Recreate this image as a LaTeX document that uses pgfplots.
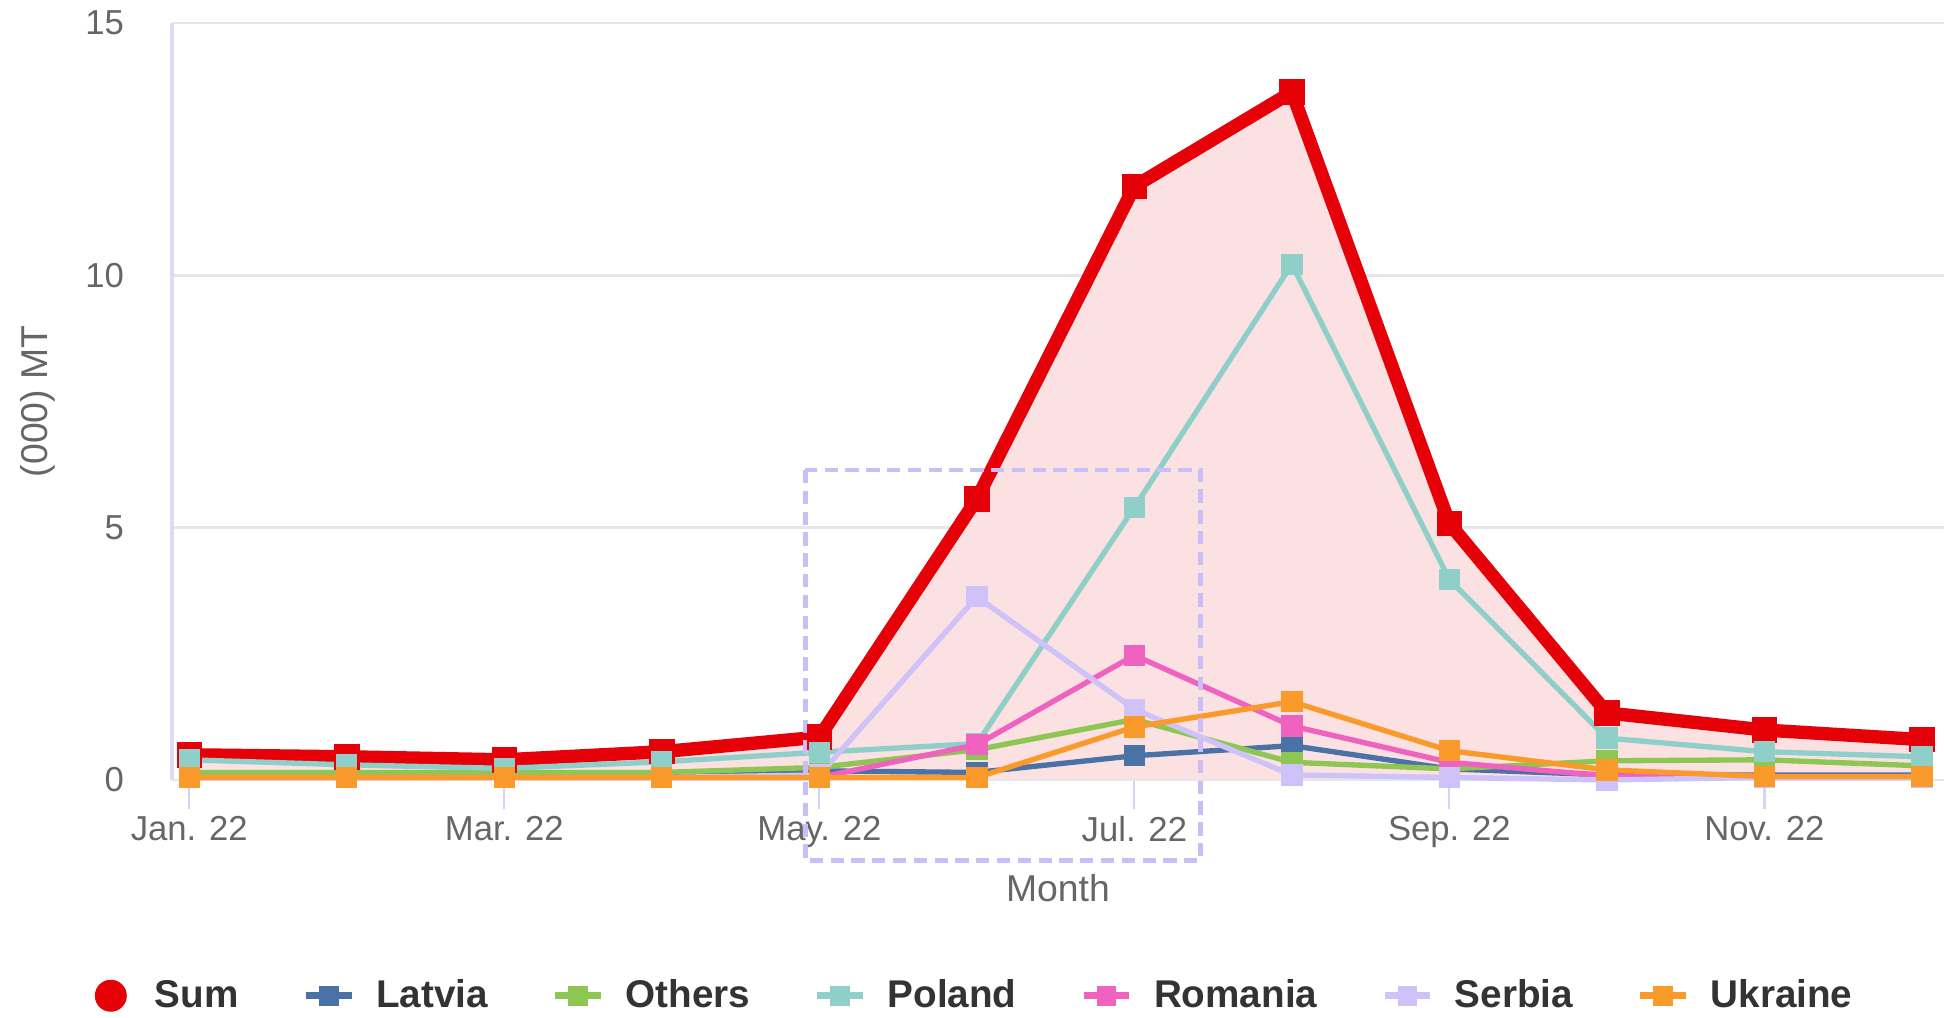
\documentclass[border=0pt]{standalone}
\usepackage{pgfplots}
\pgfplotsset{compat=1.18}
\usepackage{fontspec}
\setmainfont{Liberation Sans}
\definecolor{csum}{HTML}{E60008}
\definecolor{clat}{HTML}{4A72A6}
\definecolor{coth}{HTML}{8DC653}
\definecolor{cpol}{HTML}{8ECFC9}
\definecolor{crom}{HTML}{F062C0}
\definecolor{cser}{HTML}{CFC2F8}
\definecolor{cukr}{HTML}{FA9A2A}
\definecolor{cfill}{HTML}{FBE1E2}
\definecolor{cgrid}{HTML}{E6E6EA}
\definecolor{ctext}{HTML}{666666}
\definecolor{cleg}{HTML}{333333}
\definecolor{cbox}{HTML}{C9BEF8}
\begin{document}
\begin{tikzpicture}
\begin{axis}[
  name=ax,
  scale only axis,
  width=664.5pt, height=283.9pt,
  xmin=-0.11, xmax=11.14,
  ymin=0, ymax=15,
  clip=false,
  axis line style={draw=none},
  xtick pos=bottom, ytick pos=left,
  xtick={0,2,4,6,8,10},
  xticklabels={Jan. 22,Mar. 22,May. 22,Jul. 22,Sep. 22,Nov. 22},
  ytick={0,5,10,15},
  ymajorgrids,
  grid style={cgrid, line width=1pt},
  tick label style={font=\fontsize{13}{15}\selectfont, text=ctext},
  /pgf/number format/assume math mode=true,
  x tick style={draw=cgrid!80!blue!60, line width=0.8pt},
  xtick align=outside,
  major tick length=11pt,
  ytick style={draw=none},
  y tick label style={xshift=-14.5pt},
  x tick label style={yshift=1pt},
  xlabel={Month},
  ylabel={(000) MT},
  label style={font=\fontsize{14}{16}\selectfont, text=ctext},
  xlabel style={yshift=-3.2pt},
  ylabel style={yshift=4.5pt},
  legend columns=7,
  legend style={draw=none, fill=none, at={(0.452,-0.285)}, anchor=center,
    font=\fontsize{14.5}{17}\selectfont\bfseries, text=cleg,
    /tikz/every odd column/.append style={column sep=6pt},
    /tikz/every even column/.append style={column sep=22pt}},
  legend cell align=left,
]
% left axis line
\draw[cgrid!70!blue!40, line width=1.2pt] (axis cs:-0.11,0) -- (axis cs:-0.11,15);
% area under Sum
\addplot[fill=cfill, draw=none, forget plot] coordinates {
(0,0.5)(1,0.46)(2,0.4)(3,0.56)(4,0.85)(5,5.57)(6,11.76)(7,13.63)(8,5.08)(9,1.33)(10,0.99)(11,0.8)} \closedcycle;
\draw[cgrid, line width=1pt] (axis cs:-0.11,0) -- (axis cs:11.14,0);
% Sum
\addplot[csum, line width=5pt, mark=square*, mark size=4.6pt, mark options={line width=0pt}, forget plot] coordinates {
(0,0.5)(1,0.46)(2,0.4)(3,0.56)(4,0.85)(5,5.57)(6,11.76)(7,13.63)(8,5.08)(9,1.33)(10,0.99)(11,0.8)};
% Latvia
\addplot[clat, line width=2pt, mark=square*, mark size=3.8pt, mark options={line width=0pt}, forget plot] coordinates {
(0,0.12)(1,0.1)(2,0.1)(3,0.12)(4,0.18)(5,0.15)(6,0.48)(7,0.68)(8,0.22)(9,0.1)(10,0.1)(11,0.1)};
% Others
\addplot[coth, line width=2pt, mark=square*, mark size=3.8pt, mark options={line width=0pt}, forget plot] coordinates {
(0,0.15)(1,0.15)(2,0.15)(3,0.15)(4,0.25)(5,0.6)(6,1.2)(7,0.35)(8,0.22)(9,0.38)(10,0.4)(11,0.28)};
% Poland
\addplot[cpol, line width=2pt, mark=square*, mark size=3.8pt, mark options={line width=0pt}, forget plot] coordinates {
(0,0.4)(1,0.3)(2,0.23)(3,0.36)(4,0.55)(5,0.72)(6,5.4)(7,10.22)(8,3.97)(9,0.83)(10,0.56)(11,0.46)};
% Romania
\addplot[crom, line width=2pt, mark=square*, mark size=3.8pt, mark options={line width=0pt}, forget plot] coordinates {
(0,0.05)(1,0.05)(2,0.05)(3,0.05)(4,0.05)(5,0.7)(6,2.47)(7,1.07)(8,0.35)(9,0.08)(10,0.05)(11,0.05)};
% Serbia
\addplot[cser, line width=2pt, mark=square*, mark size=3.8pt, mark options={line width=0pt}, forget plot] coordinates {
(0,0.05)(1,0.05)(2,0.05)(3,0.05)(4,0.1)(5,3.63)(6,1.4)(7,0.1)(8,0.05)(9,0.0)(10,0.05)(11,0.05)};
% Ukraine
\addplot[cukr, line width=2pt, mark=square*, mark size=3.8pt, mark options={line width=0pt}, forget plot] coordinates {
(0,0.05)(1,0.05)(2,0.05)(3,0.05)(4,0.05)(5,0.05)(6,1.05)(7,1.55)(8,0.58)(9,0.2)(10,0.07)(11,0.07)};
% annotation box
\draw[cbox, line width=1.8pt, dash pattern=on 5pt off 2.8pt] (axis cs:3.91,6.14) rectangle (axis cs:6.42,-1.6);
% legend
\addlegendimage{draw=none, legend image code/.code={\path[draw=none] (0cm,0cm) -- (0.6cm,0cm); \fill[csum, draw=none] (0.3cm,0cm) circle (6pt);}}
\addlegendentry{Sum}
\addlegendimage{clat, line width=2.5pt, mark=square*, mark size=3.5pt, mark options={line width=0pt}}
\addlegendentry{Latvia}
\addlegendimage{coth, line width=2.5pt, mark=square*, mark size=3.5pt, mark options={line width=0pt}}
\addlegendentry{Others}
\addlegendimage{cpol, line width=2.5pt, mark=square*, mark size=3.5pt, mark options={line width=0pt}}
\addlegendentry{Poland}
\addlegendimage{crom, line width=2.5pt, mark=square*, mark size=3.5pt, mark options={line width=0pt}}
\addlegendentry{Romania}
\addlegendimage{cser, line width=2.5pt, mark=square*, mark size=3.5pt, mark options={line width=0pt}}
\addlegendentry{Serbia}
\addlegendimage{cukr, line width=2.5pt, mark=square*, mark size=3.5pt, mark options={line width=0pt}}
\addlegendentry{Ukraine}
\end{axis}
\pgfresetboundingbox
\useasboundingbox ([shift={(-64.5pt,-88.9pt)}]ax.south west) rectangle ([shift={(0pt,8.6pt)}]ax.north east);
\end{tikzpicture}
\end{document}
